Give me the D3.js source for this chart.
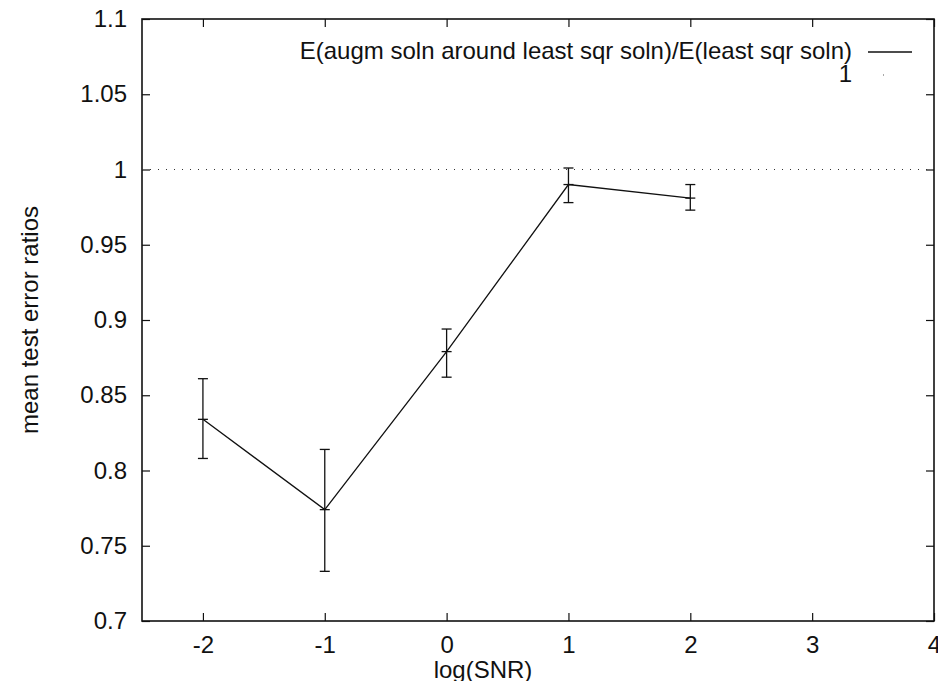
<!DOCTYPE html>
<html>
<head>
<meta charset="utf-8">
<script src="https://cdn.jsdelivr.net/npm/d3@7"></script>
<style>
  body { margin: 0; background: #fff; }
  text { font-family: "Liberation Sans", Arial, Helvetica, sans-serif; fill: #111; }
</style>
</head>
<body>
<svg id="chart"></svg>
<script>
// values
const snr = [-2, -1, 0, 1, 2];
const ratio = [0.834, 0.774, 0.879, 0.990, 0.981];
const errLow = [0.808, 0.733, 0.862, 0.978, 0.973];
const errHigh = [0.861, 0.814, 0.894, 1.001, 0.990];

const xTicks = [-2, -1, 0, 1, 2, 3, 4];
const yTicks = [0.7, 0.75, 0.8, 0.85, 0.9, 0.95, 1, 1.05, 1.1];
const legendLabels = ["E(augm soln around least sqr soln)/E(least sqr soln)", "1"];

const width = 938, height = 681;
const margin = { top: 19, right: 4, bottom: 60, left: 142 };
const innerWidth = width - margin.left - margin.right;
const innerHeight = height - margin.top - margin.bottom;
const fontSize = 24;

const svg = d3.select("#chart")
  .attr("width", width)
  .attr("height", height);

const g = svg.append("g")
  .attr("transform", `translate(${margin.left},${margin.top})`);

const x = d3.scaleLinear().domain([-2.5, 4]).range([0, innerWidth]);
const y = d3.scaleLinear().domain([0.7, 1.1]).range([innerHeight, 0]);

// plain hyphen for negatives, like the original
const fmt = d => String(+d.toFixed(2));

// axes: ticks pointing inward on all four sides
function styleAxis(sel) {
  sel.select(".domain").remove();
  sel.selectAll(".tick line").attr("stroke", "#111").attr("stroke-width", 1.2);
  sel.selectAll(".tick text")
    .style("font-size", fontSize + "px")
    .attr("fill", "#111");
}

g.append("g")
  .attr("transform", `translate(0,${innerHeight})`)
  .call(d3.axisBottom(x).tickValues(xTicks).tickSize(-8).tickPadding(15).tickFormat(fmt))
  .call(styleAxis);

g.append("g")
  .call(d3.axisTop(x).tickValues(xTicks).tickSize(-8).tickFormat(""))
  .call(styleAxis);

g.append("g")
  .call(d3.axisLeft(y).tickValues(yTicks).tickSize(-8).tickPadding(15).tickFormat(fmt))
  .call(styleAxis);

g.append("g")
  .attr("transform", `translate(${innerWidth},0)`)
  .call(d3.axisRight(y).tickValues(yTicks).tickSize(-8).tickFormat(""))
  .call(styleAxis);

// frame
g.append("rect")
  .attr("width", innerWidth)
  .attr("height", innerHeight)
  .attr("fill", "none")
  .attr("stroke", "#111")
  .attr("stroke-width", 1.6);

// the constant 1 function, dotted
g.append("line")
  .attr("x1", 0)
  .attr("x2", innerWidth)
  .attr("y1", y(1))
  .attr("y2", y(1))
  .attr("stroke", "#333")
  .attr("stroke-width", 1.2)
  .attr("stroke-dasharray", "1,7");

const data = snr.map((s, i) => ({ s, v: ratio[i], lo: errLow[i], hi: errHigh[i] }));

const line = d3.line()
  .x(d => x(d.s))
  .y(d => y(d.v));

g.append("path")
  .datum(data)
  .attr("fill", "none")
  .attr("stroke", "#111")
  .attr("stroke-width", 1.3)
  .attr("d", line);

// error bars with caps
const cap = 5;
const bars = g.append("g")
  .attr("stroke", "#111")
  .attr("stroke-width", 1.3)
  .selectAll("g")
  .data(data)
  .join("g");

bars.append("line")
  .attr("x1", d => x(d.s)).attr("x2", d => x(d.s))
  .attr("y1", d => y(d.lo)).attr("y2", d => y(d.hi));

["lo", "hi", "v"].forEach(k => {
  bars.append("line")
    .attr("x1", d => x(d.s) - cap).attr("x2", d => x(d.s) + cap)
    .attr("y1", d => y(d[k])).attr("y2", d => y(d[k]));
});

// legend
const legendRight = 852;
const legendLineX = [868, 912];
const legendY = [59, 82];

legendLabels.forEach((label, i) => {
  g.append("text")
    .attr("x", legendRight - margin.left)
    .attr("y", legendY[i] - margin.top)
    .attr("text-anchor", "end")
    .style("font-size", fontSize + "px")
    .text(label);
});

g.append("line")
  .attr("x1", legendLineX[0] - margin.left)
  .attr("x2", legendLineX[1] - margin.left)
  .attr("y1", 52 - margin.top)
  .attr("y2", 52 - margin.top)
  .attr("stroke", "#111")
  .attr("stroke-width", 1.3);

g.append("line")
  .attr("x1", legendLineX[0] - margin.left)
  .attr("x2", legendLineX[1] - margin.left)
  .attr("y1", 75 - margin.top)
  .attr("y2", 75 - margin.top)
  .attr("stroke", "#555")
  .attr("stroke-width", 1.2)
  .attr("stroke-dasharray", "0,15,1,100");

// axis titles
svg.append("text")
  .attr("x", 483)
  .attr("y", 678)
  .attr("text-anchor", "middle")
  .style("font-size", fontSize + "px")
  .text("log(SNR)");

svg.append("text")
  .attr("transform", `translate(38,320) rotate(-90)`)
  .attr("text-anchor", "middle")
  .style("font-size", fontSize + "px")
  .text("mean test error ratios");
</script>
</body>
</html>
